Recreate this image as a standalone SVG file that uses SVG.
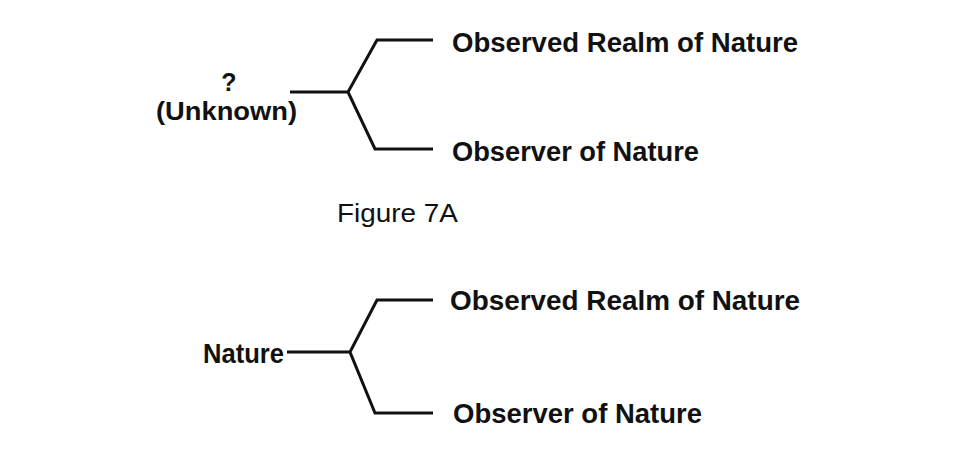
<svg xmlns="http://www.w3.org/2000/svg" width="964" height="449" viewBox="0 0 964 449">
<style>
.b{font-family:"Liberation Sans",Arial,sans-serif;font-weight:bold;font-size:27px;fill:#111}
.u{font-family:"Liberation Sans",Arial,sans-serif;font-weight:bold;font-size:25px;fill:#111}
.r{font-family:"Liberation Sans",Arial,sans-serif;font-size:26px;fill:#111}
.c{fill:none;stroke:#111;stroke-width:3;stroke-linejoin:miter}
</style>
<rect width="964" height="449" fill="#fff"/>
<g id="connectors">
<polyline class="c" points="290,92 348,92"/>
<polyline class="c" points="433,40 377,40 348,92 375,149 433,149"/>
<polyline class="c" points="287,352 350,352"/>
<polyline class="c" points="433,300 377,300 350,352 375,413 433,413"/>
</g>
<g id="unknown">
<text class="u" x="229" y="91" text-anchor="middle">?</text>
<text class="u" x="156" y="120" textLength="141" lengthAdjust="spacingAndGlyphs">(Unknown)</text>
</g>
<g id="observed-realm-a"><text class="b" x="452" y="52" textLength="346" lengthAdjust="spacingAndGlyphs">Observed Realm of Nature</text></g>
<g id="observer-a"><text class="b" x="452" y="161" textLength="247" lengthAdjust="spacingAndGlyphs">Observer of Nature</text></g>
<g id="caption"><text class="r" x="337" y="222" textLength="121" lengthAdjust="spacingAndGlyphs">Figure 7A</text></g>
<g id="nature"><text class="b" x="203" y="363" textLength="81" lengthAdjust="spacingAndGlyphs">Nature</text></g>
<g id="observed-realm-b"><text class="b" x="450" y="310" textLength="350" lengthAdjust="spacingAndGlyphs">Observed Realm of Nature</text></g>
<g id="observer-b"><text class="b" x="453" y="423" textLength="249" lengthAdjust="spacingAndGlyphs">Observer of Nature</text></g>
</svg>
